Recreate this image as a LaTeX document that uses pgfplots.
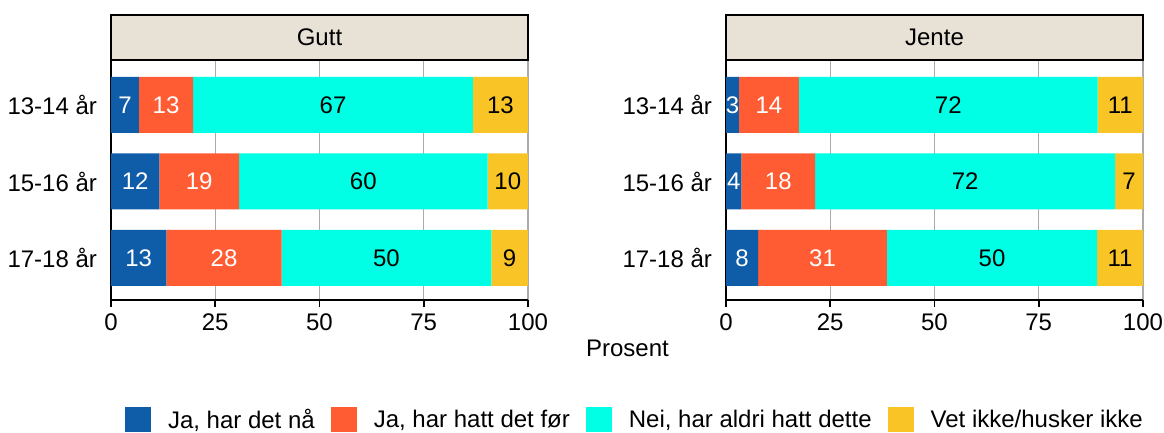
\documentclass[border=0pt]{standalone}
\usepackage{fontspec}
\setmainfont{Liberation Sans}
\usepackage{pgfplots}
\pgfplotsset{compat=1.18}
\usepackage{pgfplotstable}

\definecolor{cblue}{RGB}{15,92,168}
\definecolor{corange}{RGB}{255,92,51}
\definecolor{ccyan}{RGB}{0,255,228}
\definecolor{cyellow}{RGB}{249,196,37}
\definecolor{stripbg}{RGB}{231,225,214}

% columns: row, four shares, rounded labels
\pgfplotstableread{
y a b c d la lb lc ld
1 6.7 13.0 67.1 13.2 7 13 67 13
2 11.6 19.1 59.6 9.7 12 19 60 10
3 13.3 27.6 50.3 8.8 13 28 50 9
}\gutt
\pgfplotstableread{
y a b c d la lb lc ld
1 3.1 14.4 71.6 10.9 3 14 72 11
2 3.7 17.7 71.9 6.7 4 18 72 7
3 7.7 30.9 50.4 11.0 8 31 50 11
}\jente

\newcommand{\fs}{\fontsize{12}{14}\selectfont}

\pgfplotsset{
  panel/.style={
    scale only axis, width=208.5pt, height=119.5pt,
    anchor=north west,
    xbar stacked, bar width=28pt,
    xmin=0, xmax=100, ymin=0.425, ymax=3.55, y dir=reverse,
    xtick={0,25,50,75,100}, ytick={1,2,3},
    yticklabels={13-14 år,15-16 år,17-18 år},
    axis x line*=bottom, axis y line*=left,
    axis line style={-, black, line width=0.9pt},
    xmajorgrids, grid style={draw=black!33, line width=0.7pt},
    tick align=outside, major tick length=3.5pt,
    xtick style={black, line width=0.9pt}, ytick style={draw=none},
    /pgf/number format/assume math mode=true,
    tick label style={font=\fs},
    nodes near coords, point meta=explicit symbolic,
    every node near coord/.append style={anchor=center, font=\fs},
  },
  seg/.style={fill=#1, draw=none},
}

\begin{document}
\begin{tikzpicture}
\useasboundingbox (0,0) rectangle (582pt,-216.5pt);

\begin{axis}[panel, at={(55.5pt,-30.5pt)},
  legend style={draw=none, fill=none, at={(1.254,-0.502)}, anchor=center,
    legend columns=4, font=\fs, nodes={inner sep=0pt},
    /tikz/every odd column/.append style={column sep=8.5pt},
    /tikz/every even column/.append style={column sep=8pt}},
  legend image code/.code={\draw[#1, draw=none] (0pt,-6.25pt) rectangle (13pt,6.25pt);},
]
  \addplot[seg=cblue, every node near coord/.append style={text=white}] table[x=a, y=y, meta=la] {\gutt};
  \addplot[seg=corange, every node near coord/.append style={text=white}] table[x=b, y=y, meta=lb] {\gutt};
  \addplot[seg=ccyan, every node near coord/.append style={text=black}] table[x=c, y=y, meta=lc] {\gutt};
  \addplot[seg=cyellow, every node near coord/.append style={text=black}] table[x=d, y=y, meta=ld] {\gutt};
  \legend{{Ja, har det nå}, {Ja, har hatt det før}, {Nei, har aldri hatt dette}, {Vet ikke/husker ikke}}
\end{axis}

\begin{axis}[panel, at={(363pt,-30.5pt)}]
  \addplot[seg=cblue, every node near coord/.append style={text=white}] table[x=a, y=y, meta=la] {\jente};
  \addplot[seg=corange, every node near coord/.append style={text=white}] table[x=b, y=y, meta=lb] {\jente};
  \addplot[seg=ccyan, every node near coord/.append style={text=black}] table[x=c, y=y, meta=lc] {\jente};
  \addplot[seg=cyellow, every node near coord/.append style={text=black}] table[x=d, y=y, meta=ld] {\jente};
\end{axis}

% panel strips
\draw[fill=stripbg, line width=0.8pt] (55.5pt,-7.5pt) rectangle (264pt,-30pt);
\node[font=\fs] at (159.75pt,-18.75pt) {Gutt};
\draw[fill=stripbg, line width=0.8pt] (363pt,-7.5pt) rectangle (571.5pt,-30pt);
\node[font=\fs] at (467.25pt,-18.75pt) {Jente};

\node[font=\fs] at (313.75pt,-174pt) {Prosent};
\end{tikzpicture}
\end{document}
